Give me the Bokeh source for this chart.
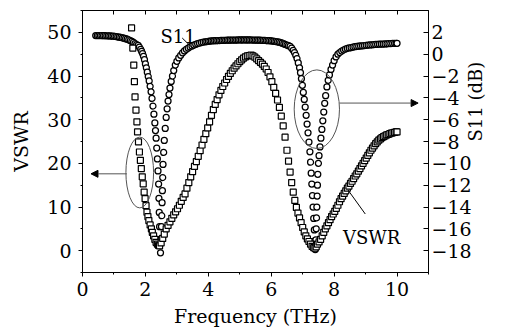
import math
from bokeh.plotting import figure
from bokeh.models import (Range1d, LinearAxis, FixedTicker, SingleIntervalTicker,
                          CustomJSTickFormatter, Arrow, NormalHead, Label)
from bokeh.embed import file_html
from bokeh.resources import INLINE

# ---------------- data ----------------
s11_freq = [0.42, 0.47, 0.52, 0.57, 0.62, 0.67, 0.72, 0.77, 0.82, 0.87, 0.92, 0.97,
            1.02, 1.07, 1.12, 1.17, 1.22, 1.27, 1.32, 1.37, 1.42, 1.47, 1.52, 1.57,
            1.62, 1.67, 1.72, 1.77, 1.81, 1.85, 1.88, 1.91, 1.94, 1.97, 2.00, 2.03,
            2.06, 2.09, 2.12, 2.15, 2.18, 2.21, 2.24, 2.27, 2.30, 2.32, 2.34, 2.36,
            2.38, 2.40, 2.42, 2.43, 2.44, 2.45, 2.46, 2.48,
            2.50, 2.51, 2.52, 2.53, 2.54, 2.55, 2.56, 2.58, 2.60, 2.63, 2.66, 2.69,
            2.72, 2.75, 2.78, 2.82, 2.86, 2.90, 2.95, 3.00, 3.06, 3.12, 3.18, 3.24,
            3.30, 3.36, 3.42, 3.48, 3.54, 3.60, 3.66, 3.72, 3.78, 3.84, 3.90, 3.95,
            4.00, 4.05, 4.10, 4.15, 4.20, 4.25, 4.30, 4.35, 4.40, 4.45, 4.50, 4.55,
            4.60, 4.65, 4.70, 4.75, 4.80, 4.85, 4.90, 4.95, 5.00, 5.05, 5.10, 5.15,
            5.20, 5.25, 5.30, 5.35, 5.40, 5.45, 5.50, 5.55, 5.60, 5.65, 5.70, 5.75,
            5.80, 5.85, 5.90, 5.95, 6.00, 6.05, 6.10, 6.15, 6.20, 6.25, 6.30, 6.35,
            6.40, 6.45, 6.50, 6.55, 6.60, 6.65, 6.70, 6.74, 6.78, 6.82, 6.86, 6.90,
            6.93, 6.96, 6.99, 7.02, 7.05, 7.08, 7.11, 7.14, 7.17, 7.20, 7.23, 7.25,
            7.27, 7.29, 7.31, 7.33, 7.35, 7.37, 7.38, 7.40,
            7.42, 7.43, 7.44, 7.45, 7.46, 7.47, 7.48, 7.50, 7.52, 7.55, 7.58, 7.61,
            7.64, 7.67, 7.70, 7.73, 7.77, 7.81, 7.85, 7.90, 7.95, 8.00, 8.06, 8.12,
            8.18, 8.24, 8.30, 8.36, 8.42, 8.48, 8.54, 8.60, 8.66, 8.72, 8.78, 8.84,
            8.90, 8.96, 9.02, 9.08, 9.14, 9.20, 9.26, 9.32, 9.38, 9.44, 9.50, 9.56,
            9.62, 9.68, 9.74, 9.80, 9.86, 9.92, 9.97, 10.00]
s11_db = [1.70, 1.70, 1.70, 1.70, 1.70, 1.69, 1.69, 1.68, 1.68, 1.67, 1.66, 1.65,
          1.63, 1.61, 1.59, 1.56, 1.53, 1.50, 1.46, 1.42, 1.37, 1.31, 1.25, 1.17,
          1.08, 0.97, 0.88, 0.80, 0.65, 0.45, 0.25, 0.05, -0.20, -0.50, -0.90, -1.25,
          -1.65, -2.05, -2.45, -2.95, -3.45, -4.05, -4.75, -5.50, -6.30, -7.00, -7.70, -8.60,
          -9.60, -10.70, -11.90, -13.20, -14.50, -15.80, -17.00, -18.20,
          -16.90, -15.80, -14.80, -13.60, -12.50, -11.30, -10.10, -9.00, -7.90, -6.80, -5.80, -5.00,
          -4.30, -3.70, -3.10, -2.50, -2.00, -1.50, -1.00, -0.65, -0.35, -0.10, 0.12, 0.30,
          0.45, 0.56, 0.66, 0.75, 0.83, 0.90, 0.96, 1.01, 1.06, 1.10, 1.13, 1.16,
          1.18, 1.20, 1.21, 1.22, 1.23, 1.24, 1.25, 1.25, 1.26, 1.26, 1.27, 1.27,
          1.28, 1.28, 1.28, 1.29, 1.29, 1.29, 1.29, 1.30, 1.30, 1.30, 1.30, 1.30,
          1.30, 1.30, 1.30, 1.30, 1.29, 1.29, 1.29, 1.28, 1.28, 1.28, 1.27, 1.26,
          1.26, 1.25, 1.24, 1.23, 1.21, 1.20, 1.18, 1.16, 1.13, 1.10, 1.06, 1.01,
          0.95, 0.89, 0.83, 0.78, 0.72, 0.55, 0.35, 0.15, -0.10, -0.40, -0.80, -1.25,
          -1.70, -2.25, -2.85, -3.50, -4.15, -4.85, -5.60, -6.40, -7.20, -8.05, -8.95, -9.90,
          -10.90, -11.90, -12.95, -14.00, -15.05, -16.10, -17.10, -17.90,
          -17.00, -16.00, -15.00, -14.00, -13.00, -12.00, -11.00, -10.00, -9.30, -8.50, -7.70, -6.90,
          -6.10, -5.30, -4.50, -3.80, -3.00, -2.40, -1.90, -1.40, -1.00, -0.60, -0.25, 0.00,
          0.15, 0.28, 0.38, 0.46, 0.52, 0.57, 0.61, 0.65, 0.68, 0.71, 0.73, 0.75,
          0.77, 0.79, 0.81, 0.83, 0.85, 0.86, 0.88, 0.89, 0.90, 0.91, 0.92, 0.93,
          0.94, 0.95, 0.96, 0.97, 0.98, 0.99, 1.00, 1.00]

vswr_freq = [1.56, 1.60, 1.63, 1.65, 1.67, 1.70, 1.73, 1.75, 1.78, 1.81, 1.84, 1.87,
             1.90, 1.93, 1.96, 1.99, 2.02, 2.05, 2.08, 2.11, 2.15, 2.19, 2.22, 2.26,
             2.30, 2.34, 2.38, 2.42, 2.45, 2.50, 2.55, 2.60, 2.66, 2.72, 2.78, 2.84,
             2.90, 2.96, 3.02, 3.08, 3.14, 3.20, 3.26, 3.32, 3.38, 3.44, 3.50, 3.56,
             3.62, 3.68, 3.74, 3.80, 3.86, 3.92, 3.98, 4.04, 4.10, 4.16, 4.22, 4.28,
             4.34, 4.40, 4.46, 4.52, 4.58, 4.64, 4.70, 4.76, 4.82, 4.88, 4.94, 5.00,
             5.06, 5.12, 5.18, 5.24, 5.30, 5.36, 5.42, 5.48, 5.54, 5.60, 5.66, 5.72,
             5.78, 5.84, 5.90, 5.96, 6.02, 6.08, 6.14, 6.20, 6.26, 6.32, 6.38, 6.44,
             6.50, 6.55, 6.60, 6.65, 6.70, 6.75, 6.80, 6.85, 6.90, 6.95, 7.00, 7.05,
             7.10, 7.15, 7.20, 7.25, 7.30, 7.35, 7.39, 7.43, 7.47, 7.52, 7.57, 7.62,
             7.67, 7.72, 7.77, 7.82, 7.87, 7.92, 7.97, 8.02, 8.07, 8.12, 8.17, 8.22,
             8.27, 8.32, 8.37, 8.42, 8.47, 8.52, 8.57, 8.62, 8.67, 8.72, 8.77, 8.82,
             8.87, 8.92, 8.97, 9.02, 9.07, 9.12, 9.17, 9.22, 9.27, 9.32, 9.37, 9.42,
             9.47, 9.52, 9.57, 9.62, 9.67, 9.72, 9.77, 9.82, 9.87, 9.92, 9.97, 10.00]
vswr_val = [51.0, 46.4, 42.5, 38.7, 35.2, 32.2, 29.5, 27.2, 24.9, 22.6, 20.7, 18.8,
            16.9, 15.3, 13.4, 11.9, 10.3, 8.8, 7.8, 6.9, 5.9, 5.0, 4.2, 3.4,
            2.6, 1.9, 1.5, 1.2, 1.1, 1.8, 2.8, 3.8, 5.0, 5.8, 6.6, 7.4,
            8.2, 8.9, 9.6, 10.4, 11.3, 12.2, 13.0, 14.3, 15.6, 16.9, 18.1, 19.3,
            20.4, 21.6, 22.9, 24.2, 25.5, 26.8, 28.1, 29.5, 31.0, 32.3, 33.5, 34.6,
            35.7, 36.7, 37.6, 38.4, 39.2, 39.9, 40.6, 41.2, 41.8, 42.3, 42.8, 43.3,
            43.7, 44.1, 44.4, 44.6, 44.7, 44.8, 44.6, 44.3, 43.9, 43.5, 43.1, 42.7,
            42.2, 41.6, 40.8, 39.8, 38.7, 37.4, 36.0, 34.5, 32.8, 30.8, 28.6, 26.0,
            23.0, 20.5, 18.0, 15.6, 13.4, 11.5, 9.9, 8.6, 7.5, 6.4, 5.3, 4.3,
            3.4, 2.7, 2.1, 1.5, 1.0, 0.7, 0.6, 0.9, 1.5, 2.0, 2.6, 3.4,
            4.2, 5.0, 5.7, 6.4, 7.1, 7.8, 8.4, 9.0, 9.7, 10.4, 11.2, 11.9,
            12.5, 13.1, 13.7, 14.3, 14.8, 15.4, 15.9, 16.5, 17.1, 17.6, 18.2, 18.8,
            19.4, 20.0, 20.6, 21.2, 21.8, 22.4, 23.0, 23.5, 24.0, 24.5, 24.9, 25.3,
            25.6, 25.9, 26.1, 26.3, 26.5, 26.6, 26.8, 26.9, 27.0, 27.1, 27.2, 27.2]

x_ticks = [0, 2, 4, 6, 8, 10]
vswr_ticks = [0, 10, 20, 30, 40, 50]
s11_ticks = [-18, -16, -14, -12, -10, -8, -6, -4, -2, 0, 2]

# annotation geometry (data units, left axis)
ell_x = [1.82, 7.45]
ell_y = [17.9, 32.4]
ell_w = [0.88, 1.44]
ell_h = [16.2, 18.0]

FONT = "DejaVu Serif"

p = figure(width=499, height=331, x_range=Range1d(0, 11), y_range=Range1d(-5, 55),
           output_backend="svg", toolbar_location=None,
           min_border_left=82, min_border_right=65, min_border_top=10, min_border_bottom=59)
p.extra_y_ranges = {"s11": Range1d(-20, 4)}
p.xgrid.visible = False
p.ygrid.visible = False
p.outline_line_color = "black"
p.background_fill_color = "white"

# bottom axis
xa = p.xaxis[0]
xa.ticker = SingleIntervalTicker(interval=2, num_minor_ticks=2)
xa.axis_label = "Frequency (THz)"
xa.major_tick_out = 4
xa.major_tick_in = 0
xa.minor_tick_out = 2
xa.minor_tick_in = 0
xa.major_label_standoff = 5
xa.axis_label_standoff = 6

# left axis
ya = p.yaxis[0]
ya.ticker = FixedTicker(ticks=vswr_ticks, minor_ticks=[-5, 5, 15, 25, 35, 45, 55])
ya.axis_label = "VSWR"
ya.major_tick_out = 4
ya.major_tick_in = 0
ya.minor_tick_out = 2
ya.minor_tick_in = 0
ya.major_label_standoff = 7
ya.axis_label_standoff = 12

# right axis
ra = LinearAxis(y_range_name="s11", axis_label="S11 (dB)",
                ticker=FixedTicker(ticks=s11_ticks, minor_ticks=[]),
                formatter=CustomJSTickFormatter(code="return tick < 0 ? '\\u2212' + Math.abs(tick) : String(tick);"))
ra.major_tick_out = 0
ra.major_tick_in = 5
ra.minor_tick_out = 0
ra.minor_tick_in = 0
ra.major_label_standoff = 3
ra.axis_label_standoff = 1
ra.axis_label_orientation = math.pi / 2
p.add_layout(ra, "right")

# top axis (ticks only, no labels drawn)
ta = LinearAxis(ticker=FixedTicker(ticks=list(range(0, 11)), minor_ticks=[]))
ta.major_tick_out = 0
ta.major_tick_in = 4
ta.minor_tick_out = 0
ta.minor_tick_in = 0
ta.major_label_text_font_size = "0px"
ta.major_label_text_color = None
ta.major_label_standoff = 0
p.add_layout(ta, "above")

for ax in [xa, ya, ra]:
    ax.major_label_text_font = FONT
    ax.major_label_text_font_size = "19px"
    ax.major_label_text_color = "black"
    ax.axis_label_text_font = FONT
    ax.axis_label_text_font_style = "normal"
    ax.axis_label_text_color = "black"
    ax.axis_label_text_font_size = "19px"
for ax in [xa, ya, ra, ta]:
    ax.axis_line_color = "black"
    ax.major_tick_line_color = "black"
    ax.minor_tick_line_color = "black"
ra.axis_label_text_font_size = "18px"

# data
p.scatter(s11_freq, s11_db, y_range_name="s11", marker="circle", size=6,
          fill_color="white", line_color="black", line_width=1.25)
p.scatter(vswr_freq, vswr_val, marker="square", size=6,
          fill_color="white", line_color="black", line_width=1.2)

# ellipses
p.ellipse(x=ell_x, y=ell_y, width=ell_w, height=ell_h, fill_color=None,
          line_color="#555555", line_width=1)

# arrows
p.add_layout(Arrow(end=NormalHead(size=7, fill_color="black", line_color="black", line_width=1),
                   x_start=1.41, y_start=17.6, x_end=0.27, y_end=17.6,
                   line_color="#555555", line_width=1))
p.add_layout(Arrow(end=NormalHead(size=7, fill_color="black", line_color="black", line_width=1),
                   x_start=8.17, y_start=33.8, x_end=10.67, y_end=33.8,
                   line_color="#555555", line_width=1))

# leader lines
p.segment(x0=[3.17, 8.99], y0=[48.7, 8.4], x1=[3.44, 8.44], y1=[46.8, 13.9],
          line_color="black", line_width=1)

p.add_layout(Label(x=2.48, y=49.0, text="S11", text_font=FONT, text_font_size="18px",
                   text_color="black", text_baseline="alphabetic"))
p.add_layout(Label(x=8.28, y=3.06, text="VSWR", text_font=FONT, text_font_size="18px",
                   text_color="black", text_baseline="alphabetic"))

open("out.html", "w").write(file_html(p, INLINE))
